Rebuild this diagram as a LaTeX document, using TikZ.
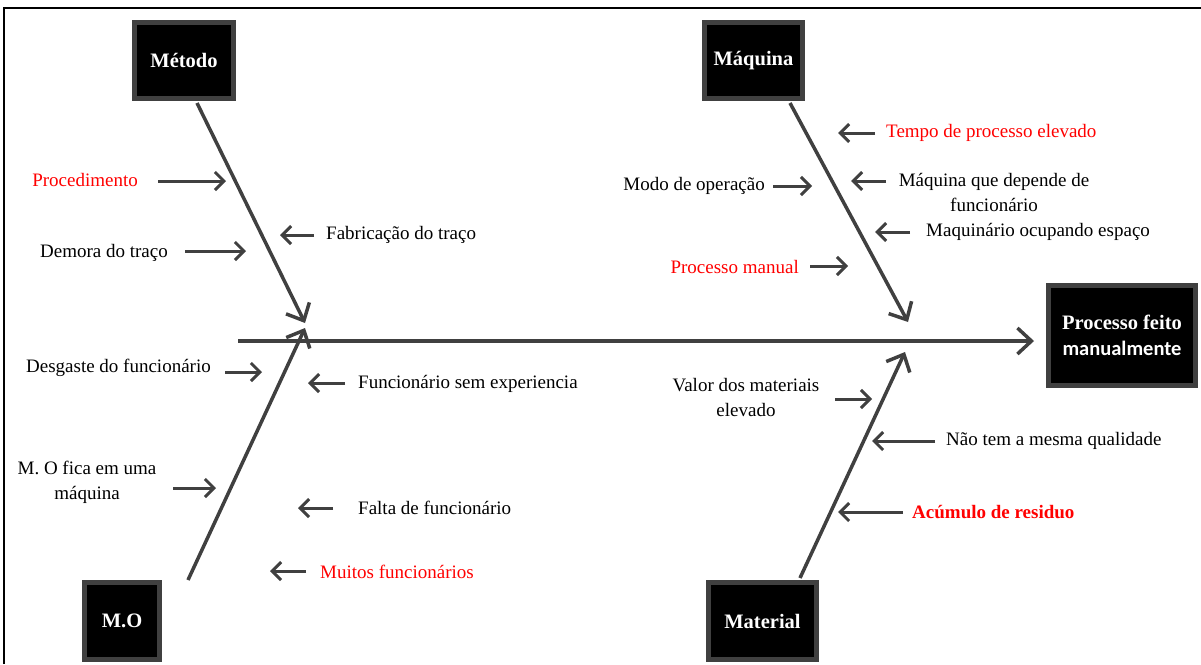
\documentclass[tikz,border=0pt]{standalone}
\usepackage{fontspec}
\setmainfont{Liberation Serif}
\newfontfamily\boxsans{Carlito}
\usetikzlibrary{arrows.meta}
\definecolor{arrgray}{HTML}{404040}
\definecolor{lblred}{HTML}{FF0000}
\tikzset{
  catbox/.style={draw=arrgray, line width=5pt, fill=black, text=white, font=\fontsize{20.5}{24}\selectfont\bfseries, align=center, inner sep=0pt},
  bigarrow/.style={draw=arrgray, line width=3.5pt, -{Straight Barb[length=14pt,width=26pt,line width=3.5pt]}},
  smallarrow/.style={draw=arrgray, line width=3pt, -{Straight Barb[length=9pt,width=18pt,line width=3pt]}},
  lbl/.style={font=\fontsize{19}{25}\selectfont, text=black, inner sep=0pt, align=center},
  redlbl/.style={lbl, text=lblred}
}
\begin{document}
\begin{tikzpicture}[x=1pt,y=-1pt]
\useasboundingbox (0,0) rectangle (1201,664);
% frame
\draw[black, line width=2pt] (4,664) -- (4,7.5) -- (1201,7.5);

% category boxes
\node[catbox, minimum width=99pt, minimum height=76pt] (metodo) at (184,60.5) {Método};
\node[catbox, minimum width=98pt, minimum height=76pt] (maquina) at (753.5,60.5) {Máquina};
\node[catbox, minimum width=75pt, minimum height=77pt] (mo) at (122,621) {M.O};
\node[catbox, minimum width=108pt, minimum height=77pt] (material) at (762.5,621) {Material};
\node[catbox, minimum width=147pt, minimum height=100pt] (result) at (1122,335.5) {Processo feito\\[2pt]{\boxsans\bfseries manualmente}};

% spine
\coordinate (spS) at (238,341);
\coordinate (spE) at (1034,341);
\draw[bigarrow] (spS) -- (spE);

% branches
\coordinate (metS) at (197,103);
\coordinate (metE) at (305,323);
\coordinate (maqS) at (790,103);
\coordinate (maqE) at (908,322);
\coordinate (moS) at (188,580);
\coordinate (moE) at (305,328);
\coordinate (matS) at (800,578);
\coordinate (matE) at (905,352);
\draw[bigarrow] (metS) -- (metE);
\draw[bigarrow] (maqS) -- (maqE);
\draw[bigarrow] (moS) -- (moE);
\draw[bigarrow] (matS) -- (matE);

% labels
\node[redlbl, anchor=east] (l1) at (138,180) {Procedimento};
\node[lbl, anchor=east] (l2) at (168,253) {Demora do traço};
\node[lbl, anchor=west] (l3) at (326,235) {Fabricação do traço};
\node[redlbl, anchor=west] (l4) at (886,133) {Tempo de processo elevado};
\node[lbl, anchor=east] (l5) at (765,186) {Modo de operação};
\node[lbl] (l6) at (994,192) {Máquina que depende de\\funcionário};
\node[lbl, anchor=west] (l7) at (926,232) {Maquinário ocupando espaço};
\node[redlbl, anchor=east] (l8) at (799,267) {Processo manual};
\node[lbl, anchor=east] (l9) at (211,368) {Desgaste do funcionário};
\node[lbl, anchor=west] (l10) at (358,384) {Funcionário sem experiencia};
\node[lbl] (l11) at (87,482) {M. O fica em uma\\máquina};
\node[lbl, anchor=west] (l12) at (358,508) {Falta de funcionário};
\node[redlbl, anchor=west] (l13) at (320,572) {Muitos funcionários};
\node[lbl] (l14) at (746,397) {Valor dos materiais\\elevado};
\node[lbl, anchor=west] (l15) at (946,441) {Não tem a mesma qualidade};
\node[redlbl, anchor=west, font=\fontsize{19}{25}\selectfont\bfseries] (l16) at (912,512) {Acúmulo de residuo};

% small arrows
\foreach \n/\xa/\xb/\yy in {a1/158/226/181, a2/185/246/251, a3/314/280/235, a4/875/838/133,
  a5/773/812/186, a6/886/851/181, a7/910/875/232, a8/810/848/266,
  a9/225/262/372, a10/345/308/383, a11/173/216/488, a12/333/298/508,
  a13/306/270/571, a14/835/872/399, a15/935/872/441, a16/903/838/512}{
  \coordinate (\n s) at (\xa,\yy);
  \coordinate (\n e) at (\xb,\yy);
  \draw[smallarrow] (\n s) -- (\n e);
}
\end{tikzpicture}
\end{document}
